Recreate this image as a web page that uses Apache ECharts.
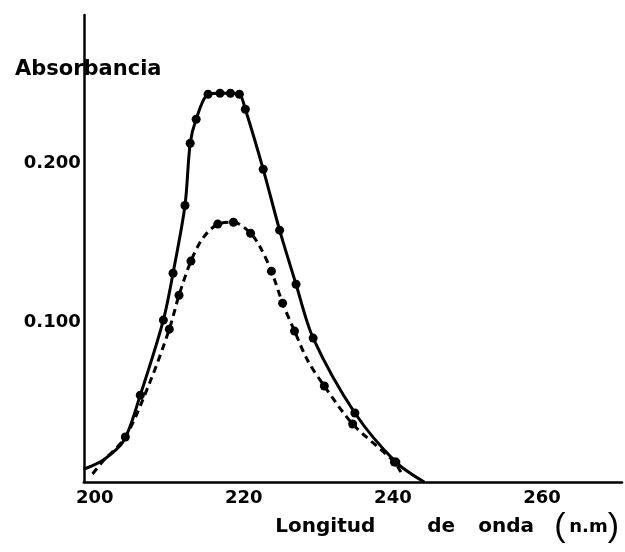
<!DOCTYPE html>
<html><head><meta charset="utf-8">
<script src="https://cdn.jsdelivr.net/npm/echarts@6/dist/echarts.min.js"></script>
<style>html,body{margin:0;padding:0;background:#fff}#c{width:625px;height:552px}</style>
</head><body><div id="c"></div>
<script>
// Tick labels
const xTickValues = [200, 220, 240, 260];
const yTickValues = [0.1, 0.2];

// Solid curve (wavelength nm, absorbance) and which points carry a dot
const solidNm  = [198.5, 201.2, 203.9, 206.1, 209.2, 210.5, 212.1, 212.8, 213.6, 215.2, 216.8, 218.2, 219.4, 220.2, 222.6, 224.8, 227.0, 229.3, 234.9, 240.4, 244.2];
const solidAbs = [0.008, 0.014, 0.026, 0.0545, 0.1016, 0.131, 0.1735, 0.2125, 0.2276, 0.2433, 0.2439, 0.2439, 0.2433, 0.2339, 0.1962, 0.158, 0.1241, 0.0903, 0.0433, 0.0125, 0.0];
const solidDot = [0, 0, 0, 1, 1, 1, 1, 1, 1, 1, 1, 1, 1, 1, 1, 1, 1, 1, 1, 1, 0];

// Dashed curve
const dashNm  = [199.7, 201.0, 204.1, 207.4, 210.0, 211.3, 212.9, 214.5, 216.5, 218.6, 220.9, 222.2, 223.7, 225.2, 226.8, 228.6, 230.8, 234.6, 240.2, 241.2];
const dashAbs = [0.005, 0.0125, 0.0282, 0.0627, 0.0959, 0.1172, 0.1386, 0.153, 0.1618, 0.163, 0.1561, 0.1473, 0.1323, 0.1122, 0.0947, 0.0759, 0.0602, 0.0364, 0.0125, 0.005];
const dashDot = [0, 0, 1, 0, 1, 1, 1, 0, 1, 1, 1, 0, 1, 1, 1, 0, 1, 1, 1, 0];

const xMin = 198.52, xMax = 270.74, yMin = 0, yMax = 0.293;

function build(nm, ab, dots) {
  return nm.map((x, i) => ({ value: [x, ab[i]], symbol: dots[i] ? 'circle' : 'none' }));
}

const word = { fontFamily: 'DejaVu Sans', fontWeight: 'bold', fontSize: 20, color: '#000', align: 'left' };
const paren = { fontFamily: 'Liberation Sans', fontWeight: 'normal', fontSize: 34, color: '#000', lineHeight: 36, align: 'left' };
const chart = echarts.init(document.getElementById('c'), null, { renderer: 'canvas' });
chart.setOption({
  animation: false,
  backgroundColor: '#fff',
  grid: { left: 80, right: 3, top: 15, bottom: 70 },
  xAxis: {
    type: 'value', min: xMin, max: xMax,
    axisLine: { show: true, lineStyle: { color: '#000', width: 2.5 } },
    axisTick: { show: false },
    splitLine: { show: false },
    axisLabel: {
      customValues: xTickValues, margin: 7, color: '#000',
      fontFamily: 'DejaVu Sans', fontWeight: 'bold', fontSize: 18
    },
    name: '{a|Longitud}{b|de}{c|onda}{p|(}{n|n.m}{q|)}',
    nameLocation: 'end', nameGap: -3,
    nameTextStyle: {
      align: 'right', verticalAlign: 'top', padding: [27, 0, 0, 0],
      color: '#000', fontFamily: 'DejaVu Sans', fontWeight: 'bold', fontSize: 20,
      rich: {
        a: Object.assign({ width: 152 }, word),
        b: Object.assign({ width: 51 }, word),
        c: Object.assign({ width: 76 }, word),
        n: Object.assign({}, word, { fontSize: 18 }),
        p: Object.assign({ width: 15 }, paren),
        q: Object.assign({}, paren)
      }
    }
  },
  yAxis: {
    type: 'value', min: yMin, max: yMax,
    axisLine: { show: true, lineStyle: { color: '#000', width: 2.5 } },
    axisTick: { show: false },
    splitLine: { show: false },
    axisLabel: {
      customValues: yTickValues, margin: 3, color: '#000',
      fontFamily: 'DejaVu Sans', fontWeight: 'bold', fontSize: 18,
      formatter: v => v.toFixed(3)
    },
    name: 'Absorbancia',
    nameLocation: 'end', nameGap: -54.5,
    nameTextStyle: {
      align: 'center', verticalAlign: 'middle',
      color: '#000', fontFamily: 'DejaVu Sans', fontWeight: 'bold', fontSize: 21, lineHeight: 22,
      backgroundColor: '#fff', padding: [8, 3, 15, 12]
    }
  },
  series: [
    {
      type: 'line', data: build(solidNm, solidAbs, solidDot),
      smooth: 0.3, clip: false,
      symbolSize: 9, showAllSymbol: true,
      lineStyle: { color: '#000', width: 3 },
      itemStyle: { color: '#000', borderWidth: 0 }
    },
    {
      type: 'line', data: build(dashNm, dashAbs, dashDot),
      smooth: 0.3, clip: false,
      symbolSize: 9, showAllSymbol: true,
      lineStyle: { color: '#000', width: 3, type: [7, 5] },
      itemStyle: { color: '#000', borderWidth: 0 }
    }
  ]
});
</script>
</body></html>
